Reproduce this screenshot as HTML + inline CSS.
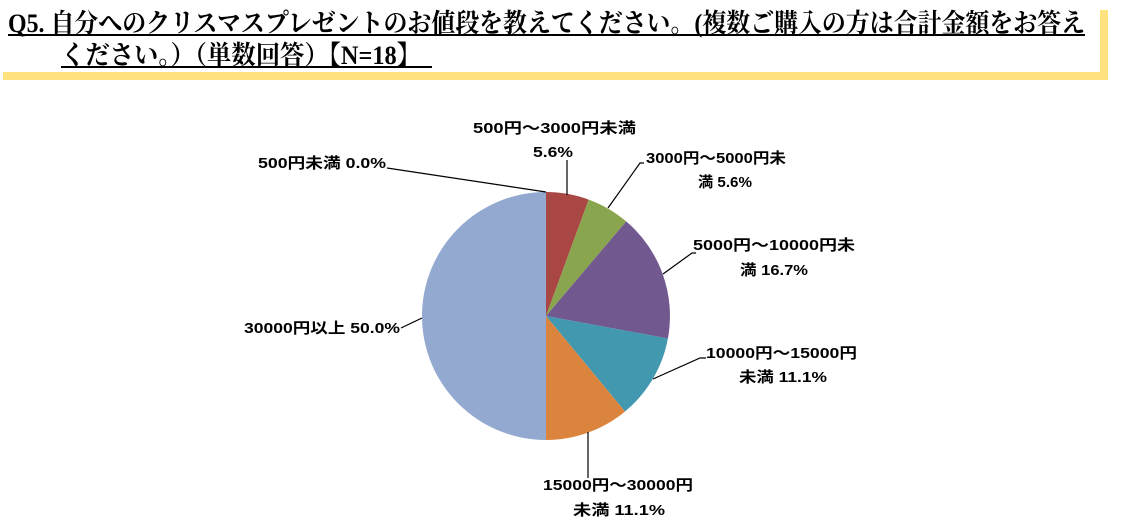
<!DOCTYPE html>
<html><head><meta charset="utf-8"><style>
html,body{margin:0;padding:0;background:#fff;}
svg{display:block;}
.h{font-family:"Liberation Serif","Noto Serif CJK JP",serif;font-weight:bold;font-size:26px;fill:#000;}
.l{font-family:"Liberation Sans","Noto Sans CJK JP",sans-serif;font-weight:bold;font-size:15px;fill:#000;}
</style></head><body>
<svg width="1131" height="525" viewBox="0 0 1131 525">
<rect x="1100" y="10" width="8" height="70" fill="#ffe17f"/>
<rect x="3" y="72" width="1105" height="8" fill="#ffe17f"/>
<text class="h" x="8" y="32" textLength="1077" lengthAdjust="spacingAndGlyphs">Q5. 自分へのクリスマスプレゼントのお値段を教えてください。(複数ご購入の方は合計金額をお答え</text>
<rect x="8" y="34" width="1077" height="2" fill="#000"/>
<text class="h" x="61" y="64" textLength="360" lengthAdjust="spacingAndGlyphs">ください。）（単数回答）【N=18】</text>
<rect x="61" y="66" width="371" height="2" fill="#000"/>

<path d="M546,316 L546,192 A124,124 0 0 1 588.7,199.6 Z" fill="#a94744"/>
<path d="M546,316 L588.7,199.6 A124,124 0 0 1 626.2,221.4 Z" fill="#89a54e"/>
<path d="M546,316 L626.2,221.4 A124,124 0 0 1 667.9,338.5 Z" fill="#71588f"/>
<path d="M546,316 L667.9,338.5 A124,124 0 0 1 625,411.5 Z" fill="#4198af"/>
<path d="M546,316 L625,411.5 A124,124 0 0 1 546,440 Z" fill="#db843d"/>
<path d="M546,316 L546,440 A124,124 0 0 1 546,192 Z" fill="#93a9cf"/>

<g stroke="#000" stroke-width="1.2" fill="none">
<path d="M567,160 L567,195"/>
<path d="M387,168 L546,192"/>
<path d="M644,163 L640,163 L608,208"/>
<path d="M696,253 L692,253 L663,274"/>
<path d="M706,358 L700,358 L653,379"/>
<path d="M588,478 L588,432"/>
<path d="M401,328 L422,318"/>
</g>
<g lengthAdjust="spacingAndGlyphs">
<text class="l" x="473" y="133" textLength="163" lengthAdjust="spacingAndGlyphs">500円～3000円未満</text>
<text class="l" x="533" y="157" textLength="40" lengthAdjust="spacingAndGlyphs">5.6%</text>
<text class="l" x="258" y="168" textLength="128" lengthAdjust="spacingAndGlyphs">500円未満 0.0%</text>
<text class="l" x="646" y="163" textLength="140" lengthAdjust="spacingAndGlyphs">3000円～5000円未</text>
<text class="l" x="698" y="187" textLength="54" lengthAdjust="spacingAndGlyphs">満 5.6%</text>
<text class="l" x="693" y="250" textLength="162" lengthAdjust="spacingAndGlyphs">5000円～10000円未</text>
<text class="l" x="740" y="275" textLength="68" lengthAdjust="spacingAndGlyphs">満 16.7%</text>
<text class="l" x="706" y="358" textLength="151" lengthAdjust="spacingAndGlyphs">10000円～15000円</text>
<text class="l" x="739" y="382" textLength="88" lengthAdjust="spacingAndGlyphs">未満 11.1%</text>
<text class="l" x="543" y="490" textLength="150" lengthAdjust="spacingAndGlyphs">15000円～30000円</text>
<text class="l" x="573" y="515" textLength="92" lengthAdjust="spacingAndGlyphs">未満 11.1%</text>
<text class="l" x="244" y="333" textLength="156" lengthAdjust="spacingAndGlyphs">30000円以上 50.0%</text>
</g>
</svg>
</body></html>
